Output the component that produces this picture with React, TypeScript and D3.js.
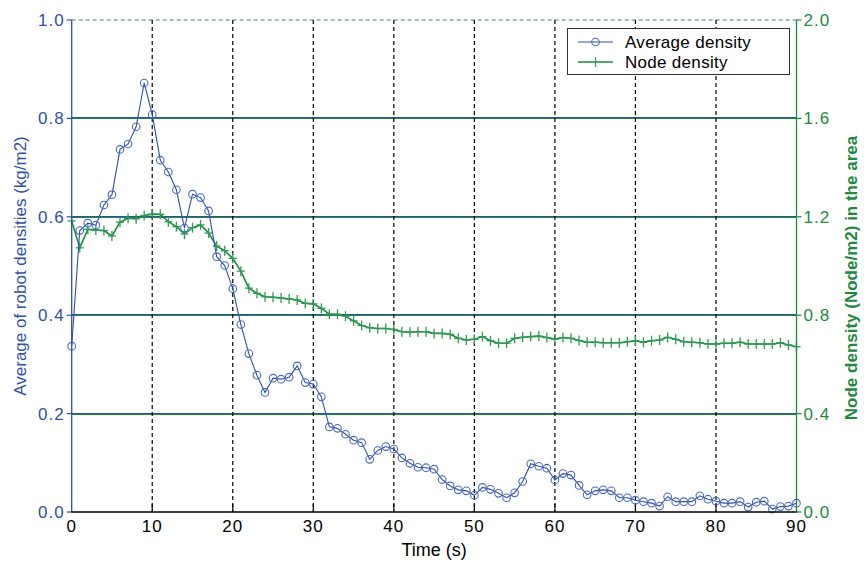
import React from "react";
import * as d3 from "d3";

// time in seconds, one sample per second
const times: number[] = d3.range(0, 91);

// Average density (kg/m2), left axis
const avgDensity: number[] = [
  0.337, 0.572, 0.587, 0.583, 0.624, 0.645, 0.737, 0.748, 0.783, 0.872,
  0.808, 0.715, 0.691, 0.655, 0.577, 0.646, 0.639, 0.612, 0.519, 0.501,
  0.454, 0.381, 0.322, 0.278, 0.243, 0.272, 0.27, 0.274, 0.297, 0.263,
  0.26, 0.234, 0.173, 0.17, 0.158, 0.146, 0.141, 0.107, 0.125, 0.133,
  0.128, 0.11, 0.099, 0.091, 0.09, 0.087, 0.066, 0.053, 0.045, 0.043,
  0.034, 0.05, 0.046, 0.038, 0.029, 0.039, 0.062, 0.098, 0.093, 0.089,
  0.065, 0.078, 0.075, 0.054, 0.035, 0.043, 0.045, 0.043, 0.029, 0.029,
  0.024, 0.021, 0.018, 0.012, 0.031, 0.021, 0.021, 0.021, 0.033, 0.026,
  0.022, 0.018, 0.018, 0.021, 0.01, 0.02, 0.022, 0.006, 0.011, 0.012,
  0.018,
];

// Node density (Node/m2), right axis
const nodeDensity: number[] = [
  1.183, 1.074, 1.149, 1.146, 1.144, 1.122, 1.178, 1.194, 1.192, 1.205,
  1.211, 1.21, 1.18, 1.16, 1.13, 1.156, 1.167, 1.134, 1.081, 1.062,
  1.031, 0.979, 0.91, 0.889, 0.875, 0.873, 0.87, 0.866, 0.862, 0.848,
  0.846, 0.828, 0.804, 0.804, 0.796, 0.777, 0.758, 0.749, 0.746, 0.746,
  0.742, 0.733, 0.731, 0.733, 0.733, 0.726, 0.726, 0.722, 0.706, 0.699,
  0.702, 0.713, 0.696, 0.686, 0.686, 0.706, 0.71, 0.713, 0.715, 0.709,
  0.703, 0.709, 0.706, 0.697, 0.69, 0.69, 0.688, 0.688, 0.688, 0.692,
  0.696, 0.69, 0.696, 0.699, 0.71, 0.702, 0.692, 0.69, 0.688, 0.683,
  0.683, 0.686, 0.686, 0.69, 0.683, 0.683, 0.683, 0.683, 0.688, 0.679,
  0.672,
];

const xTicks = [0, 10, 20, 30, 40, 50, 60, 70, 80, 90];
const leftTicks = [0, 0.2, 0.4, 0.6, 0.8, 1.0];
const rightTicks = [0, 0.4, 0.8, 1.2, 1.6, 2.0];

const W = 864;
const H = 562;
const BLUE = "#3050a8";
const BLUE_MARK = "#4a68c4";
const GREEN = "#1e8a3e";
const GREEN_MARK = "#2f9a55";
const FONT = "'Liberation Sans', Arial, sans-serif";

export default function App() {
  const x = d3.scaleLinear().domain([0, 90]).range([71.7, 796.5]);
  const yL = d3.scaleLinear().domain([0, 1]).range([512, 20]);
  const yR = d3.scaleLinear().domain([0, 2]).range([512, 20]);

  const avgLine = d3
    .line<number>()
    .x((_, i) => x(times[i]))
    .y((d) => yL(d))(avgDensity);
  const nodeLine = d3
    .line<number>()
    .x((_, i) => x(times[i]))
    .y((d) => yR(d))(nodeDensity);

  const [x0, x1] = x.range();
  const [yb, yt] = yL.range();

  return (
    <svg
      width={W}
      height={H}
      style={{ position: "absolute", left: 0, top: 0, background: "#fff" }}
      fontFamily={FONT}
    >
      {/* horizontal grid: blue line from the left axis, green from the right */}
      {leftTicks.slice(1, -1).map((t) => {
        const yy = Math.round(yL(t));
        return (
          <g key={"hg" + t}>
            <line x1={x0} x2={x1} y1={yy - 0.5} y2={yy - 0.5} stroke={BLUE} strokeWidth={1} />
            <line x1={x0} x2={x1} y1={yy + 0.5} y2={yy + 0.5} stroke={GREEN} strokeWidth={1} />
          </g>
        );
      })}
      {/* top border dashed */}
      <line x1={x0} x2={x1} y1={yt} y2={yt} stroke="#4f7f5f" strokeWidth={1} strokeDasharray="4,3" />

      {/* vertical grid, dashed black */}
      {xTicks.slice(1, -1).map((t) => (
        <g key={"vg" + t}>
          <line x1={x(t)} x2={x(t)} y1={yt} y2={yb} stroke="#000" strokeWidth={1.2} strokeDasharray="4,3" />
          <line x1={x(t)} x2={x(t)} y1={yb - 8} y2={yb} stroke="#000" strokeWidth={1.2} />
        </g>
      ))}

      {/* series: node density */}
      <path d={nodeLine ?? ""} fill="none" stroke={GREEN} strokeWidth={1.6} />
      {nodeDensity.map((d, i) => (
        <g key={"n" + i} stroke={GREEN_MARK} strokeWidth={1.3}>
          <line x1={x(times[i]) - 4} x2={x(times[i]) + 4} y1={yR(d)} y2={yR(d)} />
          <line x1={x(times[i])} x2={x(times[i])} y1={yR(d) - 5} y2={yR(d) + 5} />
        </g>
      ))}

      {/* series: average density */}
      <path d={avgLine ?? ""} fill="none" stroke={BLUE} strokeWidth={1.1} />
      {avgDensity.map((d, i) => (
        <circle key={"a" + i} cx={x(times[i])} cy={yL(d)} r={3.8} fill="none" stroke={BLUE_MARK} strokeWidth={1.1} />
      ))}

      {/* axes */}
      <line x1={x0} x2={x0} y1={yt} y2={yb} stroke={BLUE} strokeWidth={1.3} />
      <line x1={x1} x2={x1} y1={yt} y2={yb} stroke={GREEN} strokeWidth={1.3} />
      <line x1={x0 - 0.5} x2={x1 + 0.5} y1={yb} y2={yb} stroke="#000" strokeWidth={1.3} />

      {leftTicks.map((t) => (
        <g key={"lt" + t}>
          <line x1={x0 - 5} x2={x0} y1={yL(t)} y2={yL(t)} stroke={BLUE} strokeWidth={1.2} />
          <text x={x0 - 7} y={yL(t) + 6} textAnchor="end" fontSize={17} fill={BLUE} letterSpacing={1}>
            {t.toFixed(1)}
          </text>
        </g>
      ))}
      {rightTicks.map((t) => (
        <g key={"rt" + t}>
          <line x1={x1} x2={x1 + 5} y1={yR(t)} y2={yR(t)} stroke={GREEN} strokeWidth={1.2} />
          <text x={x1 + 7} y={yR(t) + 6} textAnchor="start" fontSize={17} fill={GREEN} letterSpacing={1}>
            {t.toFixed(1)}
          </text>
        </g>
      ))}
      {xTicks.map((t) => (
        <text key={"xt" + t} x={x(t)} y={yb + 20} textAnchor="middle" fontSize={17} fill="#000" letterSpacing={1}>
          {t}
        </text>
      ))}

      {/* axis titles */}
      <text x={(x0 + x1) / 2} y={556} textAnchor="middle" fontSize={18} fill="#000">
        Time (s)
      </text>
      <text
        transform={`translate(26,${(yt + yb) / 2}) rotate(-90)`}
        textAnchor="middle"
        fontSize={17}
        fill={BLUE}
      >
        Average of robot densities (kg/m2)
      </text>
      <text
        transform={`translate(857,${(yt + yb) / 2 + 12}) rotate(-90)`}
        textAnchor="middle"
        fontSize={17}
        fill={GREEN}
        fontWeight="bold"
      >
        Node density (Node/m2) in the area
      </text>

      {/* legend */}
      <g>
        <rect x={567.5} y={28.5} width={222} height={46} fill="#fff" stroke="#333" strokeWidth={1} />
        <line x1={578} x2={613} y1={42} y2={42} stroke={BLUE} strokeWidth={1.1} />
        <circle cx={595.5} cy={42} r={3.8} fill="none" stroke={BLUE_MARK} strokeWidth={1.1} />
        <text x={625} y={48} fontSize={17} fill="#000" letterSpacing={0.3}>
          Average density
        </text>
        <line x1={578} x2={613} y1={62} y2={62} stroke={GREEN} strokeWidth={1.3} />
        <line x1={595.5} x2={595.5} y1={57} y2={67} stroke={GREEN_MARK} strokeWidth={1.2} />
        <text x={625} y={68} fontSize={17} fill="#000" letterSpacing={0.3}>
          Node density
        </text>
      </g>
    </svg>
  );
}
